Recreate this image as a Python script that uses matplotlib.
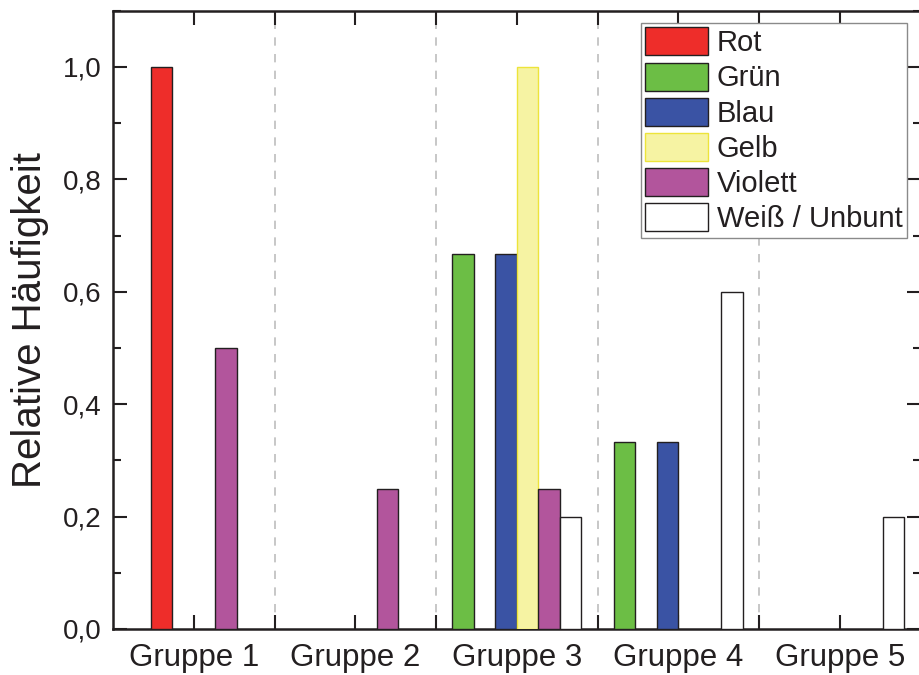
import matplotlib
matplotlib.use("Agg")
import matplotlib.pyplot as plt
import numpy as np
from matplotlib.ticker import MultipleLocator, FixedLocator

plt.rcParams['font.family'] = ['Liberation Sans', 'DejaVu Sans']

groups = ["Gruppe 1", "Gruppe 2", "Gruppe 3", "Gruppe 4", "Gruppe 5"]
series = ["Rot", "Grün", "Blau", "Gelb", "Violett", "Weiß / Unbunt"]
rot = [1.0, 0.0, 0.0, 0.0, 0.0]
gruen = [0.0, 0.0, 0.667, 0.333, 0.0]
blau = [0.0, 0.0, 0.667, 0.333, 0.0]
gelb = [0.0, 0.0, 1.0, 0.0, 0.0]
violett = [0.5, 0.25, 0.25, 0.0, 0.0]
weiss = [0.0, 0.0, 0.2, 0.6, 0.2]
values = [rot, gruen, blau, gelb, violett, weiss]

# slot offsets (in bar widths) as drawn in the reference
slots = [-1.5, -2.5, -0.5, 0.5, 1.5, 2.5]
faces = ["#EE2D2A", "#6CBE45", "#3A53A4", "#F6F3A3", "#B2559C", "#FFFFFF"]
edges = ["#231F20", "#231F20", "#231F20", "#EDE43A", "#231F20", "#231F20"]

W, H = 919, 675
fig = plt.figure(figsize=(W / 100, H / 100), dpi=100)
ax = fig.add_axes([113 / W, (H - 629) / H, (920.5 - 113) / W, (629 - 10.8) / H])

x = np.arange(1, len(groups) + 1)
bw = 21.5 / 161.5
dark = "#231F20"
for name, vals, s, fc, ec in zip(series, values, slots, faces, edges):
    vals = np.array(vals)
    mask = vals > 0
    ax.bar(x[mask] + s * bw, vals[mask], width=bw, color=fc, edgecolor=ec,
           linewidth=1.0, label=name, zorder=3)

for b in np.arange(1.5, len(groups), 1.0):
    ax.axvline(b, color="#BEBEBE", linestyle=(0, (5, 5)), linewidth=1.2, zorder=1)

ax.set_xlim(0.5, len(groups) + 0.5)
ax.set_ylim(0, 1.1)
ax.set_xticks(x)
ax.set_xticklabels(groups, fontsize=22.5, color=dark)
ax.xaxis.set_minor_locator(FixedLocator(np.arange(1.5, len(groups), 1.0)))
ax.yaxis.set_major_locator(MultipleLocator(0.2))
ax.yaxis.set_minor_locator(MultipleLocator(0.1))
ax.set_yticks(np.arange(0, 1.01, 0.2))
ax.set_yticklabels([f"{v:.1f}".replace(".", ",") for v in np.arange(0, 1.01, 0.2)],
                   fontsize=20, color=dark)
ax.tick_params(which="major", direction="in", length=10, width=1.5, color=dark,
               top=True, right=True, pad=8)
ax.tick_params(axis="x", which="major", pad=10)
ax.tick_params(which="minor", direction="in", length=6, width=1.5, color=dark,
               top=True, right=True)
ax.tick_params(axis="x", which="minor", length=10)
for sp in ax.spines.values():
    sp.set_linewidth(1.8)
    sp.set_color(dark)

ax.set_ylabel("Relative Häufigkeit", fontsize=29, color=dark, labelpad=10)

leg = ax.legend(loc="upper right", bbox_to_anchor=(907 / W, 1 - 23 / H),
                bbox_transform=fig.transFigure, borderaxespad=0, fontsize=21,
                handlelength=2.15, handleheight=1.1, labelspacing=0.18,
                handletextpad=0.3, borderpad=0.15, fancybox=False, framealpha=1)
leg.get_frame().set_edgecolor("#8A8A8A")
leg.get_frame().set_linewidth(1.0)
for t in leg.get_texts():
    t.set_color(dark)

fig.savefig("out.png", dpi=100)
